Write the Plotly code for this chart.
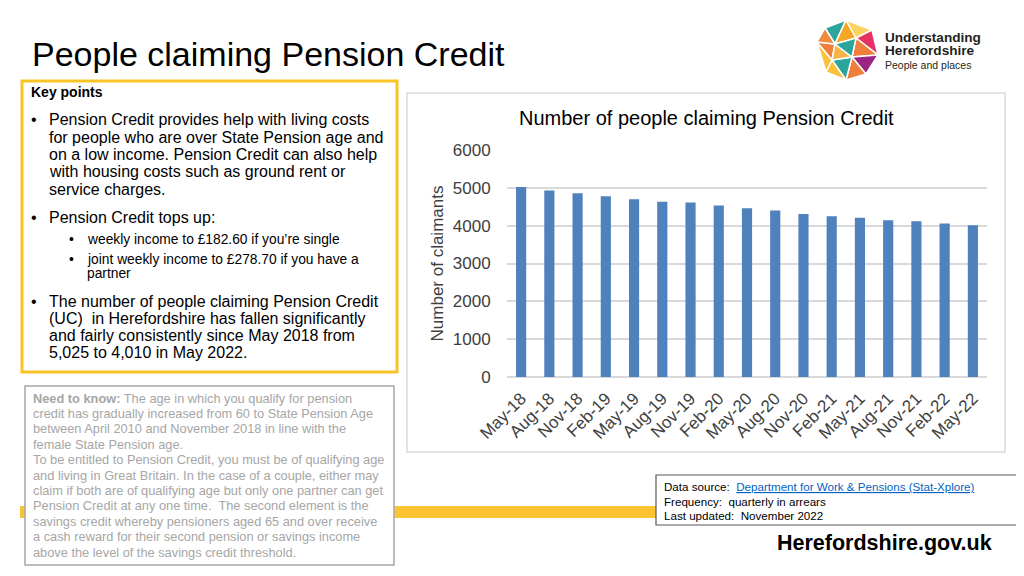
import plotly.graph_objects as go

# The page adds an 8px body margin, so the figure is drawn 8px smaller and
# every layout position below is given in screen pixels and shifted by OFF.
OFF = 8
W, H = 1024 - OFF, 576 - OFF

quarters = ["May-18", "Aug-18", "Nov-18", "Feb-19", "May-19", "Aug-19", "Nov-19",
            "Feb-20", "May-20", "Aug-20", "Nov-20", "Feb-21", "May-21", "Aug-21",
            "Nov-21", "Feb-22", "May-22"]
claimants = [5025, 4930, 4860, 4780, 4700, 4630, 4610, 4530, 4460, 4400,
             4310, 4250, 4210, 4145, 4115, 4060, 4010]
y_ticks = [0, 1000, 2000, 3000, 4000, 5000, 6000]

FONT = "Arial, Liberation Sans, sans-serif"


def px(x):
    return (x - OFF) / W


def py(y):
    return 1 - (y - OFF) / H


fig = go.Figure()
fig.add_trace(go.Bar(x=quarters, y=claimants, marker_color="#4F81BD",
                     marker_line_width=0, hoverinfo="x+y"))

shapes = []
annotations = []


def rect(x0, y0, x1, y1, line_color, lw, fill="rgba(0,0,0,0)", layer="below"):
    shapes.append(dict(type="rect", xref="paper", yref="paper",
                       x0=px(x0), x1=px(x1), y0=py(y1), y1=py(y0),
                       line=dict(color=line_color, width=lw), fillcolor=fill, layer=layer))


def text(x, y, s, size, color="#000000", bold=False, anchor="left"):
    if bold:
        s = "<b>" + s + "</b>"
    annotations.append(dict(xref="paper", yref="paper", x=px(x), y=py(y), text=s,
                            showarrow=False, xanchor=anchor, yanchor="middle",
                            font=dict(family=FONT, size=size, color=color),
                            borderpad=0))


# Yellow band behind boxes
shapes.append(dict(type="rect", xref="paper", yref="paper", x0=px(20), x1=px(656),
                   y0=py(518), y1=py(506), line_width=0, fillcolor="#FBC531", layer="below"))
# Key points box
rect(22, 81, 397, 372, "#F7C325", 3, fill="white")
# Need to know box
rect(25, 386, 394, 565, "#A6A6A6", 1.5, fill="white")
# Chart box
rect(407, 93, 1005, 452, "#D9D9D9", 1.5)
# Data source box
rect(656, 475, 1018, 525, "#595959", 1.2, fill="white")

# Title
text(31, 54, "People claiming Pension Credit", 34)

# Key points
text(30, 92, "Key points", 14, bold=True)
main_lines = [
    (120, "Pension Credit provides help with living costs", True),
    (137, "for people who are over State Pension age and", False),
    (154, "on a low income. Pension Credit can also help", False),
    (171, "with housing costs such as ground rent or", False),
    (189, "service charges.", False),
    (217, "Pension Credit tops up:", True),
    (301, "The number of people claiming Pension Credit", True),
    (318, "(UC)  in Herefordshire has fallen significantly", False),
    (335, "and fairly consistently since May 2018 from", False),
    (352, "5,025 to 4,010 in May 2022.", False),
]
for y, s, bullet in main_lines:
    if bullet:
        text(30, y, "•", 16)
    text(48, y, s, 16)

sub_lines = [
    (239, "weekly income to £182.60 if you’re single", True),
    (259, "joint weekly income to £278.70 if you have a", True),
    (273, "partner", False),
]
for y, s, bullet in sub_lines:
    if bullet:
        text(68, y, "•", 13.8)
    text(86, y, s, 13.8)

# Need to know
need_lines = [
    "<b>Need to know:</b> The age in which you qualify for pension",
    "credit has gradually increased from 60 to State Pension Age",
    "between April 2010 and November 2018 in line with the",
    "female State Pension age.",
    "To be entitled to Pension Credit, you must be of qualifying age",
    "and living in Great Britain. In the case of a couple, either may",
    "claim if both are of qualifying age but only one partner can get",
    "Pension Credit at any one time.  The second element is the",
    "savings credit whereby pensioners aged 65 and over receive",
    "a cash reward for their second pension or savings income",
    "above the level of the savings credit threshold.",
]
for i, s in enumerate(need_lines):
    text(32, 398 + i * 15.4, s, 12.8, color="#A6A6A6")

# Data source box text
text(663, 486, "Data source:  <span style='color:#0563C1'><u>Department for Work "
               "&amp; Pensions (Stat-Xplore)</u></span>", 11.6)
text(663, 501, "Frequency:  quarterly in arrears", 11.6)
text(663, 515, "Last updated:  November 2022", 11.6)

# Herefordshire.gov.uk
text(776, 543, "Herefordshire.gov.uk", 21.5, bold=True)

# Understanding Herefordshire logo text
text(884, 37.5, "Understanding", 13.6, color="#231F20", bold=True)
text(884, 51, "Herefordshire", 13.6, color="#231F20", bold=True)
text(884, 65, "People and places", 10.5, color="#231F20")

# Logo hexagon made of triangles
P = {
    "T": (846, 20), "TR": (872, 30), "R": (878, 55), "BR": (866, 74),
    "B": (846, 80), "BL": (826, 72), "L": (817, 42), "TL": (825, 28),
    "A": (835, 44), "C": (856, 38), "D": (852, 57), "E": (832, 60),
}
tris = [
    (("TL", "T", "A"), "#2BA59A"),
    (("T", "C", "A"), "#F5A623"),
    (("T", "TR", "C"), "#FBD160"),
    (("TR", "R", "C"), "#E63262"),
    (("C", "R", "D"), "#F07F3C"),
    (("R", "BR", "D"), "#9B2583"),
    (("D", "BR", "B"), "#F07F3C"),
    (("E", "D", "B"), "#2BA59A"),
    (("BL", "E", "B"), "#F9C23C"),
    (("L", "E", "BL"), "#F9C23C"),
    (("L", "A", "E"), "#F07F3C"),
    (("A", "D", "E"), "#F7B547"),
    (("A", "C", "D"), "#2BA59A"),
    (("TL", "A", "L"), "#F08A3C"),
]
for (a, b, c), col in tris:
    pts = [P[a], P[b], P[c]]
    path = "M " + " L ".join(f"{px(x):.5f},{py(y):.5f}" for x, y in pts) + " Z"
    shapes.append(dict(type="path", xref="paper", yref="paper", path=path,
                       fillcolor=col, line=dict(color="white", width=1.5), layer="above"))

# Chart title
text(706, 118, "Number of people claiming Pension Credit", 20, anchor="center")

fig.update_layout(
    width=W, height=H,
    margin=dict(l=0, r=0, t=0, b=0, pad=0, autoexpand=False),
    paper_bgcolor="white", plot_bgcolor="rgba(0,0,0,0)",
    showlegend=False,
    bargap=0.64,
    font=dict(family=FONT, color="#404040"),
    shapes=shapes, annotations=annotations,
    xaxis=dict(domain=[px(507), px(987)], type="category", tickangle=-45,
               automargin=False,
               tickfont=dict(size=17, color="#404040", family=FONT),
               showgrid=False, showline=False, zeroline=False,
               ticks="outside", ticklen=4, tickcolor="rgba(0,0,0,0)"),
    yaxis=dict(domain=[py(377), py(150)], range=[0, 6000], tickvals=y_ticks,
               automargin=False,
               tickfont=dict(size=17, color="#404040", family=FONT),
               showgrid=True, gridcolor="#D9D9D9", gridwidth=1.5,
               zeroline=True, zerolinecolor="#D9D9D9", zerolinewidth=1.5,
               showline=False,
               ticks="outside", ticklen=12, tickcolor="rgba(0,0,0,0)",
               title=dict(text="Number of claimants", standoff=4,
                          font=dict(size=17, color="#404040", family=FONT))),
)

fig.write_html("out.html")
